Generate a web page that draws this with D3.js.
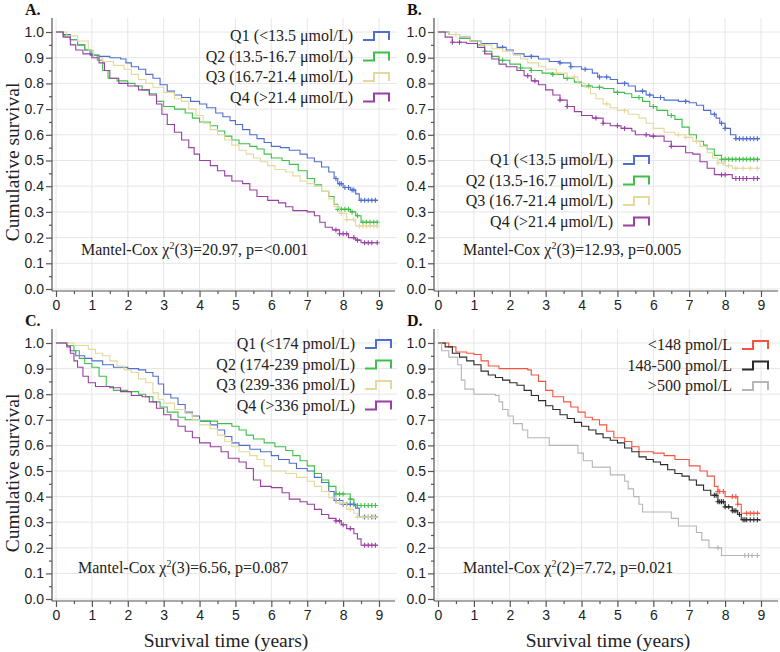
<!DOCTYPE html>
<html>
<head>
<meta charset="utf-8">
<script src="https://cdn.jsdelivr.net/npm/d3@7"></script>
<style>
  body { margin: 0; background: #fff; }
  svg { font-family: "Liberation Serif", "Times New Roman", serif; }
  .tick text { font-size: 14px; fill: #222; }
  .axis path, .axis line { stroke: #555; stroke-width: 1.2; }
</style>
</head>
<body>
<svg id="chart" width="780" height="652"></svg>
<script>
// survival curves: [time (years), cumulative survival]
var aQ1 = [[0,1],[0.2,0.99],[0.4,0.97],[0.6,0.95],[0.8,0.93],[0.95,0.91],[1.2,0.905],[1.5,0.9],[1.8,0.895],[1.95,0.88],[2.1,0.865],[2.3,0.855],[2.5,0.835],[2.7,0.82],[2.9,0.795],[3.1,0.77],[3.3,0.755],[3.5,0.745],[3.75,0.73],[4,0.72],[4.2,0.705],[4.45,0.685],[4.65,0.67],[4.85,0.655],[5,0.64],[5.2,0.62],[5.4,0.6],[5.6,0.585],[5.8,0.57],[6,0.555],[6.25,0.55],[6.5,0.54],[6.8,0.525],[7,0.51],[7.2,0.495],[7.4,0.475],[7.6,0.455],[7.75,0.43],[7.85,0.41],[8,0.395],[8.2,0.385],[8.35,0.37],[8.45,0.345],[8.97,0.345]];
var aQ2 = [[0,1],[0.2,0.985],[0.4,0.97],[0.6,0.95],[0.8,0.93],[1,0.91],[1.15,0.89],[1.3,0.85],[1.45,0.82],[1.7,0.81],[2,0.8],[2.2,0.79],[2.4,0.775],[2.6,0.76],[2.8,0.73],[3,0.71],[3.3,0.7],[3.6,0.685],[3.8,0.665],[4,0.65],[4.3,0.635],[4.5,0.615],[4.7,0.595],[4.9,0.58],[5.1,0.565],[5.4,0.555],[5.6,0.545],[5.8,0.525],[6,0.51],[6.3,0.5],[6.5,0.485],[6.75,0.46],[7,0.43],[7.2,0.405],[7.4,0.38],[7.6,0.36],[7.75,0.33],[7.85,0.31],[8.2,0.3],[8.35,0.285],[8.5,0.26],[8.97,0.26]];
var aQ3 = [[0,1],[0.3,0.985],[0.6,0.965],[0.9,0.93],[1.05,0.9],[1.3,0.885],[1.6,0.87],[1.9,0.855],[2.1,0.835],[2.3,0.815],[2.5,0.8],[2.7,0.785],[3,0.765],[3.3,0.74],[3.5,0.73],[3.7,0.7],[3.9,0.675],[4.1,0.645],[4.3,0.62],[4.5,0.6],[4.7,0.58],[4.9,0.56],[5.1,0.54],[5.3,0.525],[5.5,0.51],[5.7,0.495],[5.9,0.48],[6.1,0.465],[6.4,0.455],[6.6,0.44],[6.8,0.42],[7,0.41],[7.2,0.4],[7.4,0.38],[7.6,0.35],[7.75,0.32],[7.9,0.295],[8.1,0.27],[8.35,0.245],[8.97,0.245]];
var aQ4 = [[0,1],[0.2,0.98],[0.4,0.95],[0.55,0.93],[0.75,0.915],[1,0.9],[1.2,0.88],[1.35,0.85],[1.5,0.82],[1.75,0.8],[2,0.79],[2.3,0.775],[2.6,0.755],[2.8,0.72],[2.95,0.68],[3.1,0.64],[3.3,0.61],[3.5,0.58],[3.7,0.55],[3.85,0.525],[4,0.5],[4.3,0.48],[4.5,0.46],[4.7,0.44],[4.9,0.42],[5.2,0.41],[5.4,0.385],[5.6,0.36],[5.9,0.345],[6.2,0.335],[6.4,0.32],[6.6,0.305],[7,0.3],[7.2,0.285],[7.35,0.26],[7.5,0.24],[7.7,0.23],[7.9,0.215],[8.15,0.2],[8.35,0.19],[8.5,0.18],[8.97,0.18]];

var bQ1 = [[0,1],[0.3,0.99],[0.6,0.98],[0.9,0.965],[1.2,0.955],[1.65,0.94],[1.9,0.93],[2.1,0.915],[2.4,0.905],[2.8,0.895],[3.1,0.885],[3.4,0.88],[3.7,0.865],[4,0.855],[4.3,0.84],[4.45,0.825],[4.8,0.815],[5,0.8],[5.3,0.79],[5.5,0.77],[5.8,0.755],[6,0.745],[6.3,0.735],[6.7,0.73],[7,0.725],[7.2,0.715],[7.4,0.695],[7.6,0.68],[7.75,0.665],[7.85,0.645],[8,0.625],[8.15,0.6],[8.3,0.585],[8.97,0.585]];
var bQ2 = [[0,1],[0.3,0.99],[0.6,0.975],[0.9,0.965],[1.1,0.95],[1.3,0.925],[1.5,0.905],[1.7,0.89],[2,0.875],[2.3,0.86],[2.6,0.85],[2.9,0.84],[3.2,0.835],[3.5,0.82],[3.8,0.805],[4,0.79],[4.3,0.785],[4.6,0.78],[4.9,0.765],[5.2,0.76],[5.4,0.745],[5.7,0.73],[5.9,0.71],[6.1,0.695],[6.4,0.675],[6.6,0.66],[6.8,0.63],[7,0.6],[7.2,0.575],[7.4,0.56],[7.5,0.545],[7.7,0.52],[7.9,0.505],[8.97,0.505]];
var bQ3 = [[0,1],[0.3,0.99],[0.6,0.98],[0.9,0.965],[1.2,0.95],[1.5,0.935],[1.8,0.925],[2.1,0.91],[2.3,0.895],[2.5,0.88],[2.8,0.865],[3,0.855],[3.3,0.84],[3.6,0.825],[3.9,0.8],[4.1,0.785],[4.25,0.76],[4.4,0.74],[4.6,0.72],[4.8,0.705],[5,0.695],[5.3,0.68],[5.6,0.665],[5.8,0.645],[6,0.625],[6.3,0.61],[6.6,0.6],[6.9,0.59],[7.1,0.575],[7.3,0.555],[7.5,0.53],[7.65,0.51],[7.8,0.49],[8,0.48],[8.2,0.47],[8.97,0.47]];
var bQ4 = [[0,1],[0.2,0.98],[0.4,0.96],[0.8,0.955],[1.1,0.94],[1.3,0.915],[1.5,0.895],[1.7,0.875],[1.9,0.865],[2.2,0.85],[2.4,0.83],[2.6,0.81],[2.8,0.795],[3,0.775],[3.2,0.755],[3.4,0.735],[3.6,0.71],[3.8,0.69],[4,0.675],[4.3,0.665],[4.6,0.645],[4.8,0.635],[5.1,0.625],[5.4,0.615],[5.5,0.6],[5.9,0.595],[6.3,0.575],[6.5,0.555],[6.9,0.53],[7.1,0.525],[7.3,0.495],[7.5,0.47],[7.7,0.445],[8.2,0.43],[8.97,0.43]];

var cQ1 = [[0,1],[0.3,0.99],[0.4,0.97],[0.55,0.95],[0.8,0.94],[1,0.93],[1.3,0.915],[1.6,0.905],[2,0.9],[2.3,0.895],[2.5,0.885],[2.7,0.87],[2.85,0.84],[3,0.8],[3.2,0.785],[3.4,0.76],[3.6,0.73],[3.8,0.715],[4,0.695],[4.3,0.68],[4.5,0.66],[4.7,0.635],[4.9,0.61],[5.1,0.6],[5.4,0.585],[5.7,0.575],[6,0.56],[6.2,0.545],[6.5,0.53],[6.7,0.51],[7,0.5],[7.2,0.475],[7.4,0.455],[7.6,0.42],[7.75,0.385],[8,0.37],[8.35,0.355],[8.45,0.32],[8.97,0.32]];
var cQ2 = [[0,1],[0.3,0.99],[0.5,0.97],[0.65,0.94],[0.8,0.92],[1,0.905],[1.2,0.87],[1.4,0.83],[1.6,0.815],[2,0.81],[2.3,0.8],[2.5,0.79],[2.7,0.77],[2.9,0.75],[3.1,0.73],[3.4,0.71],[3.6,0.7],[4,0.695],[4.5,0.685],[4.9,0.675],[5.1,0.66],[5.3,0.64],[5.5,0.625],[5.8,0.61],[6.1,0.595],[6.4,0.58],[6.6,0.56],[6.8,0.54],[7,0.52],[7.2,0.49],[7.4,0.465],[7.6,0.44],[7.8,0.41],[8.2,0.39],[8.3,0.365],[8.97,0.365]];
var cQ3 = [[0,1],[0.5,0.99],[0.9,0.975],[1.1,0.96],[1.3,0.95],[1.5,0.93],[1.7,0.91],[1.9,0.895],[2.1,0.885],[2.3,0.86],[2.5,0.845],[2.7,0.805],[2.85,0.78],[3,0.765],[3.3,0.74],[3.6,0.725],[3.8,0.7],[4,0.68],[4.3,0.665],[4.5,0.64],[4.7,0.615],[4.9,0.595],[5.1,0.575],[5.4,0.56],[5.6,0.545],[5.8,0.52],[6,0.5],[6.4,0.49],[6.7,0.475],[7,0.46],[7.2,0.44],[7.4,0.42],[7.6,0.395],[7.8,0.375],[8.1,0.35],[8.3,0.335],[8.4,0.32],[8.97,0.32]];
var cQ4 = [[0,1],[0.3,0.985],[0.4,0.96],[0.5,0.93],[0.6,0.905],[0.75,0.87],[0.9,0.845],[1.1,0.83],[1.5,0.825],[1.8,0.81],[2.1,0.795],[2.4,0.79],[2.6,0.77],[2.8,0.745],[3,0.72],[3.2,0.7],[3.4,0.675],[3.6,0.655],[3.8,0.63],[4,0.61],[4.3,0.595],[4.6,0.575],[4.8,0.55],[5.1,0.535],[5.3,0.51],[5.5,0.465],[5.7,0.44],[6,0.435],[6.3,0.415],[6.5,0.39],[6.8,0.38],[7,0.37],[7.2,0.35],[7.4,0.33],[7.6,0.315],[7.8,0.305],[7.95,0.29],[8.1,0.275],[8.3,0.255],[8.4,0.235],[8.5,0.21],[8.97,0.21]];

var dLow = [[0,1],[0.3,0.985],[0.5,0.965],[0.8,0.96],[1,0.955],[1.2,0.93],[1.4,0.91],[1.7,0.9],[2.5,0.895],[2.6,0.875],[2.8,0.85],[3,0.815],[3.2,0.79],[3.5,0.77],[3.7,0.75],[3.9,0.73],[4.1,0.71],[4.3,0.7],[4.5,0.68],[4.7,0.655],[4.9,0.63],[5.2,0.615],[5.4,0.595],[5.6,0.575],[6,0.57],[6.3,0.56],[6.6,0.545],[7,0.52],[7.3,0.5],[7.5,0.48],[7.7,0.44],[7.8,0.42],[8,0.4],[8.35,0.37],[8.45,0.335],[8.97,0.335]];
var dMid = [[0,1],[0.2,0.985],[0.4,0.96],[0.6,0.945],[0.8,0.93],[1,0.915],[1.2,0.89],[1.4,0.875],[1.6,0.865],[1.8,0.855],[2,0.845],[2.2,0.835],[2.4,0.815],[2.6,0.795],[2.8,0.775],[3,0.755],[3.2,0.74],[3.4,0.72],[3.6,0.705],[3.8,0.69],[4,0.675],[4.2,0.66],[4.4,0.645],[4.6,0.63],[4.8,0.62],[5,0.61],[5.2,0.59],[5.4,0.575],[5.6,0.555],[5.8,0.545],[6,0.535],[6.2,0.525],[6.4,0.505],[6.6,0.49],[6.8,0.48],[7,0.465],[7.2,0.445],[7.4,0.425],[7.6,0.405],[7.8,0.38],[8,0.36],[8.2,0.345],[8.35,0.33],[8.45,0.31],[8.97,0.305]];
var dHigh = [[0,1],[0.1,0.97],[0.3,0.945],[0.55,0.915],[0.65,0.855],[0.75,0.82],[1,0.8],[1.6,0.795],[1.7,0.77],[1.8,0.74],[1.95,0.715],[2.1,0.685],[2.35,0.66],[2.5,0.63],[3.1,0.6],[3.9,0.57],[4.05,0.54],[4.3,0.515],[4.8,0.485],[5.2,0.46],[5.3,0.43],[5.45,0.4],[5.6,0.37],[5.7,0.34],[6.1,0.34],[6.5,0.315],[6.7,0.285],[7.2,0.26],[7.35,0.23],[7.55,0.2],[7.9,0.17],[8.9,0.17]];

// censoring times
var aQ1c = [7.8,7.9,7.95,8.05,8.15,8.25,8.3,8.5,8.6,8.7,8.8,8.9];
var aQ2c = [7.85,7.95,8.05,8.15,8.25,8.4,8.55,8.65,8.75,8.85,8.95];
var aQ3c = [7.85,7.95,8.1,8.3,8.45,8.55,8.65,8.75,8.85,8.95];
var aQ4c = [7.8,7.9,8.0,8.1,8.3,8.4,8.6,8.7,8.8,8.95];
var bQ1c = [1.8,2.6,3.4,3.7,4.1,4.5,4.7,5.2,5.7,5.9,6.2,6.9,7.7,7.9,8.0,8.3,8.4,8.5,8.6,8.7,8.8,8.9];
var bQ2c = [1.3,1.8,2.3,2.6,3.2,3.6,4.2,4.5,5.0,5.6,6.0,6.5,7.9,8.0,8.1,8.2,8.3,8.4,8.5,8.6,8.7,8.8,8.9];
var bQ3c = [0.5,3.3,3.8,4.7,5.2,6.7,6.9,7.2,7.8,7.95,8.1,8.3,8.5,8.7,8.9];
var bQ4c = [0.4,0.6,2.5,2.7,3.4,3.6,4.4,4.6,5.0,5.2,5.8,6.0,6.5,7.9,8.0,8.3,8.4,8.5,8.6,8.8,8.9];
var cQ1c = [7.8,7.9,8.0,8.1,8.2,8.3,8.6,8.7,8.8,8.9];
var cQ2c = [7.8,7.9,8.0,8.2,8.4,8.5,8.6,8.7,8.8,8.9];
var cQ3c = [7.9,8.0,8.2,8.4,8.55,8.7,8.85];
var cQ4c = [7.8,7.9,8.0,8.2,8.6,8.7,8.8,8.9];
var dLowc = [7.8,7.85,7.95,8.2,8.3,8.35,8.6,8.7,8.8,8.9];
var dMidc = [7.7,7.75,7.8,7.85,7.9,7.95,8.0,8.1,8.2,8.25,8.3,8.4,8.5,8.55,8.6,8.7,8.8,8.9];
var dHighc = [7.8,8.55,8.65,8.75,8.9];

var yTicks = [0,0.1,0.2,0.3,0.4,0.5,0.6,0.7,0.8,0.9,1.0];
var xTicks = [0,1,2,3,4,5,6,7,8,9];

var qColors = ['#4f6fd0', '#3fbf4a', '#e3d99c', '#9a3fa3'];
var dColors = ['#f5533d', '#2b2b2b', '#b5b5b5'];

var panels = [
    {id: 'A.', ox: 56, oy: 32, h: 257, right: 397,
     curves: [aQ1, aQ2, aQ3, aQ4], cens: [aQ1c, aQ2c, aQ3c, aQ4c], colors: qColors,
     labels: ['Q1 (<13.5 \u03bcmol/L)', 'Q2 (13.5-16.7 \u03bcmol/L)', 'Q3 (16.7-21.4 \u03bcmol/L)', 'Q4 (>21.4 \u03bcmol/L)'],
     legX: 353, legY: 36, stat: ['(3)=20.97, p=<0.001'], statX: 81, statY: 255, yTitle: true, xTitle: false},
    {id: 'B.', ox: 438, oy: 32, h: 257, right: 780,
     curves: [bQ1, bQ2, bQ3, bQ4], cens: [bQ1c, bQ2c, bQ3c, bQ4c], colors: qColors,
     labels: ['Q1 (<13.5 \u03bcmol/L)', 'Q2 (13.5-16.7 \u03bcmol/L)', 'Q3 (16.7-21.4 \u03bcmol/L)', 'Q4 (>21.4 \u03bcmol/L)'],
     legX: 613, legY: 160, stat: ['(3)=12.93, p=0.005'], statX: 463, statY: 255, yTitle: false, xTitle: false},
    {id: 'C.', ox: 56, oy: 343, h: 256, right: 397,
     curves: [cQ1, cQ2, cQ3, cQ4], cens: [cQ1c, cQ2c, cQ3c, cQ4c], colors: qColors,
     labels: ['Q1 (<174 pmol/L)', 'Q2 (174-239 pmol/L)', 'Q3 (239-336 pmol/L)', 'Q4 (>336 pmol/L)'],
     legX: 355, legY: 344, stat: ['(3)=6.56, p=0.087'], statX: 78, statY: 573, yTitle: true, xTitle: true},
    {id: 'D.', ox: 438, oy: 343, h: 256, right: 780,
     curves: [dLow, dMid, dHigh], cens: [dLowc, dMidc, dHighc], colors: dColors,
     labels: ['<148 pmol/L', '148-500 pmol/L', '>500 pmol/L'],
     legX: 732, legY: 345, stat: ['(2)=7.72, p=0.021'], statX: 463, statY: 573, yTitle: false, xTitle: true}
];

var svg = d3.select('#chart');

panels.forEach(function (p) {
    var x = d3.scaleLinear().domain([0, 9]).range([p.ox, p.ox + 323]);
    var y = d3.scaleLinear().domain([0, 1]).range([p.oy + p.h, p.oy]);
    var axisX = p.ox - 4, axisY = y(0) + 2, top = p.oy - 14;
    var g = svg.append('g');

    // grid
    g.selectAll('.hg').data(yTicks).enter().append('line')
        .attr('x1', axisX).attr('x2', p.right)
        .attr('y1', function (d) { return y(d); }).attr('y2', function (d) { return y(d); })
        .attr('stroke', '#e6e6e6').attr('stroke-width', 1);
    g.selectAll('.vg').data(xTicks).enter().append('line')
        .attr('x1', function (d) { return x(d); }).attr('x2', function (d) { return x(d); })
        .attr('y1', top).attr('y2', axisY)
        .attr('stroke', '#e6e6e6').attr('stroke-width', 1);

    // curves
    var line = d3.line()
        .x(function (d) { return x(d[0]); })
        .y(function (d) { return y(d[1]); })
        .curve(d3.curveStepAfter);

    p.curves.forEach(function (c, i) {
        g.append('path').datum(c)
            .attr('d', line)
            .attr('fill', 'none')
            .attr('stroke', p.colors[i])
            .attr('stroke-width', 1.1);

        var stepAt = function (t) {
            var s = 1;
            c.forEach(function (pt) { if (pt[0] <= t) s = pt[1]; });
            return s;
        };
        g.selectAll(null).data(p.cens[i]).enter().append('path')
            .attr('d', function (t) {
                var px = x(t), py = y(stepAt(t));
                return 'M' + (px - 2.5) + ',' + py + 'h5M' + px + ',' + (py - 2.5) + 'v5';
            })
            .attr('stroke', p.colors[i])
            .attr('stroke-width', 1.1);
    });

    // axes
    var yAxis = d3.axisLeft(y).tickValues(yTicks).tickSize(6).tickPadding(2)
        .tickFormat(d3.format('.1f'));
    var yg = g.append('g').attr('class', 'axis')
        .attr('transform', 'translate(' + axisX + ',0)').call(yAxis);
    yg.select('.domain').remove();
    g.append('g').attr('class', 'axis')
        .attr('transform', 'translate(' + axisX + ',0)')
        .call(d3.axisLeft(y).tickValues(d3.range(0.05, 1, 0.1)).tickSize(3).tickFormat(''))
        .select('.domain').remove();
    g.append('line').attr('x1', axisX).attr('x2', axisX).attr('y1', top).attr('y2', axisY)
        .attr('stroke', '#555').attr('stroke-width', 1.2);

    var xAxis = d3.axisBottom(x).tickValues(xTicks).tickSize(6).tickPadding(3);
    var xg = g.append('g').attr('class', 'axis')
        .attr('transform', 'translate(0,' + axisY + ')').call(xAxis);
    xg.select('.domain').remove();
    g.append('g').attr('class', 'axis')
        .attr('transform', 'translate(0,' + axisY + ')')
        .call(d3.axisBottom(x).tickValues(d3.range(0.5, 9, 1)).tickSize(3).tickFormat(''))
        .select('.domain').remove();
    g.append('line').attr('x1', axisX).attr('x2', p.right - 2).attr('y1', axisY).attr('y2', axisY)
        .attr('stroke', '#555').attr('stroke-width', 1.2);

    // panel letter
    g.append('text').attr('x', p.ox - 31).attr('y', p.oy - 17)
        .attr('font-size', 16).attr('font-weight', 'bold').attr('fill', '#111')
        .text(p.id);

    // legend
    p.labels.forEach(function (lab, i) {
        var ly = p.legY + i * 20.5;
        g.append('text').attr('x', p.legX).attr('y', ly + 5)
            .attr('text-anchor', 'end').attr('font-size', 16).attr('fill', '#222')
            .text(lab);
        var sx = p.legX + 10;
        g.append('path')
            .attr('d', 'M' + sx + ',' + (ly + 4) + 'h11v-8h15v8')
            .attr('fill', 'none').attr('stroke', p.colors[i]).attr('stroke-width', 2);
    });

    // statistic
    var st = g.append('text').attr('x', p.statX).attr('y', p.statY)
        .attr('font-size', 16).attr('fill', '#222');
    st.append('tspan').text('Mantel-Cox \u03c7');
    st.append('tspan').attr('dy', -6).attr('font-size', 10).text('2');
    st.append('tspan').attr('dy', 6).text(p.stat[0]);

    if (p.yTitle) {
        g.append('text')
            .attr('transform', 'translate(19,' + (p.oy + 130) + ') rotate(-90)')
            .attr('text-anchor', 'middle').attr('font-size', 19.5).attr('fill', '#222')
            .text('Cumulative survival');
    }
    if (p.xTitle) {
        g.append('text').attr('x', p.ox + 170).attr('y', 647)
            .attr('text-anchor', 'middle').attr('font-size', 19.5).attr('fill', '#222')
            .text('Survival time (years)');
    }
});
</script>
</body>
</html>
